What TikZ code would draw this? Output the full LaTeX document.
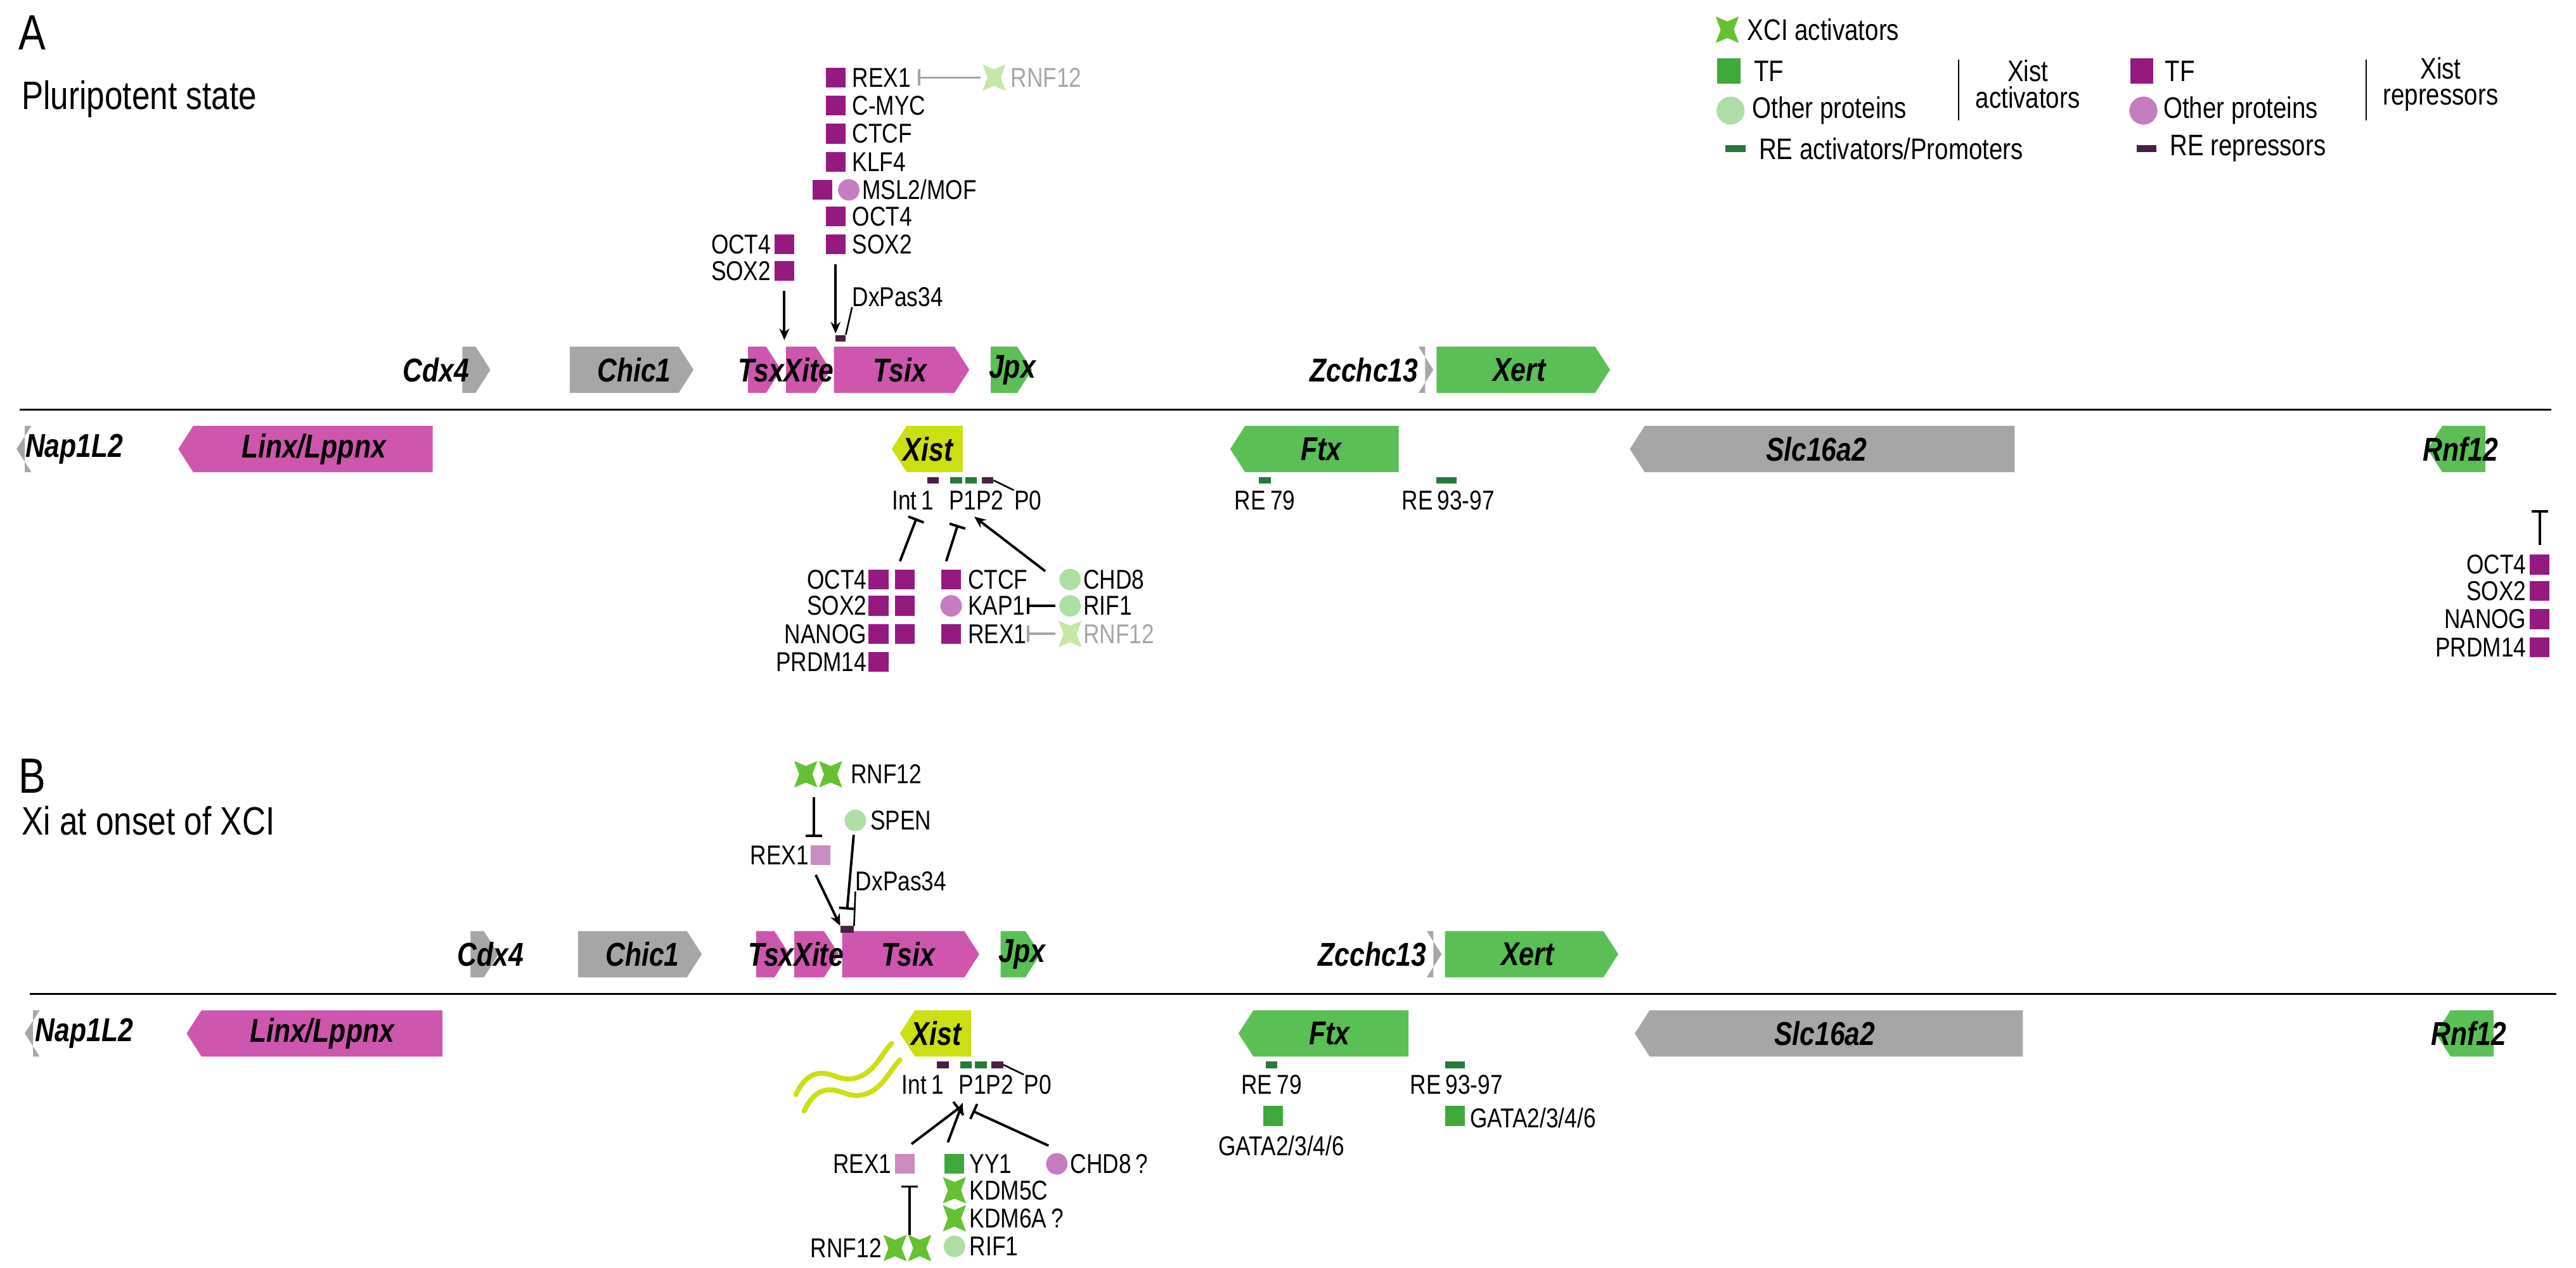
\documentclass[tikz,border=0pt]{standalone}
\usepackage{fontspec}
\setmainfont{Liberation Sans}[FakeStretch=0.82]
\usetikzlibrary{arrows.meta}
\definecolor{gpink}{HTML}{CE56AE}
\definecolor{ggreen}{HTML}{5ABF55}
\definecolor{ggrey}{HTML}{A6A6A6}
\definecolor{gxist}{HTML}{CCDF11}
\definecolor{tfp}{HTML}{96197F}
\definecolor{opp}{HTML}{C77BC0}
\definecolor{opg}{HTML}{ADDFA5}
\definecolor{stg}{HTML}{63C132}
\definecolor{stl}{HTML}{C5E8A6}
\definecolor{reg}{HTML}{267A3A}
\definecolor{rep}{HTML}{4A1F45}
\definecolor{lpk}{HTML}{C98BC1}
\definecolor{tfg}{HTML}{3FA83A}
\newcommand\gR[4]{\fill[#4] (#1,#3-14) -- (#2-9,#3-14) -- (#2,#3) -- (#2-9,#3+14) -- (#1,#3+14) -- cycle;}
\newcommand\gL[4]{\fill[#4] (#1+9,#3-14) -- (#2,#3-14) -- (#2,#3+14) -- (#1+9,#3+14) -- (#1,#3) -- cycle;}
\tikzset{
 x=1pt,y=-1pt,
 lb/.style={font=\fontsize{16.5}{17}\selectfont,inner sep=0pt},
 gn/.style={font=\fontsize{20}{20}\selectfont\bfseries\itshape,inner sep=0pt},
 lg/.style={font=\fontsize{18}{18}\selectfont,inner sep=0pt},
 tf/.style={fill=tfp,minimum size=12pt,inner sep=0pt},
 tfg/.style={fill=tfg,minimum size=12pt,inner sep=0pt},
 tfl/.style={fill=lpk,minimum size=12pt,inner sep=0pt},
 cp/.style={circle,fill=opp,minimum width=12pt,minimum height=13pt,inner sep=0pt},
 cg/.style={circle,fill=opg,minimum width=12pt,minimum height=13pt,inner sep=0pt},
 rer/.style={fill=rep,minimum width=7pt,minimum height=4pt,inner sep=0pt},
 reg/.style={fill=reg,minimum width=7pt,minimum height=4pt,inner sep=0pt},
 con/.style={line width=1.5pt,draw=black},
 act/.style={con,-{Stealth[length=7pt,width=6pt]}},
 inh/.style={con,-{Bar[width=10pt]}},
 xstar/.pic={\fill[pic actions] (-7,-8) -- (0,-5) -- (7,-8) -- (4,0) -- (7,8) -- (0,5) -- (-7,8) -- (-4,0) -- cycle;},
}
\begin{document}
\begin{tikzpicture}
\useasboundingbox (0,0) rectangle (1560,768);
% ---------- Panel A ----------
\node[anchor=west,inner sep=0,font=\fontsize{30}{30}\selectfont] (A) at (11,20) {A};
\node[anchor=west,inner sep=0,font=\fontsize{24}{24}\selectfont] (As) at (13,60) {Pluripotent state};
\draw[line width=1.2pt] (12,248) -- (1545,248);
% upper genes
\gR{280}{297}{224}{ggrey}
\gR{345}{420}{224}{ggrey}
\gR{453}{473}{224}{gpink}
\gR{476}{503}{224}{gpink}
\gR{505}{587}{224}{gpink}
\gR{600}{625}{224}{ggreen}
\gR{863}{868}{224}{ggrey}
\gR{870}{975}{224}{ggreen}
\node[gn] (cdx4) at (264,224) {Cdx4};
\node[gn] (chic1) at (384,224) {Chic1};
\node[gn] (tsx) at (476,224) {TsxXite};
\node[gn] (tsix) at (545,224) {Tsix};
\node[gn] (jpx) at (613,224) {Jpx};
\node[gn] (zc) at (826,224) {Zcchc13};
\node[gn] (xert) at (920,224) {Xert};
% lower genes
\gL{10}{15}{272}{ggrey}
\gL{108}{262}{272}{gpink}
\gL{540}{583}{272}{gxist}
\gL{745}{847}{272}{ggreen}
\gL{987}{1220}{272}{ggrey}
\gL{1470}{1505}{272}{ggreen}
\node[gn] (nap) at (45,272) {Nap1L2};
\node[gn] (linx) at (190,272) {Linx/Lppnx};
\node[gn] (xist) at (562,272) {Xist};
\node[gn] (ftx) at (800,272) {Ftx};
\node[gn] (slc) at (1100,272) {Slc16a2};
\node[gn] (rnf) at (1490,272) {Rnf12};
% RE marks
\node[rer] (int1) at (565,291) {};
\node[reg] (p1) at (579,291) {};
\node[reg] (p2) at (588,291) {};
\node[rer] (p0m) at (598,291) {};
\node[lb] (ilab) at (574,303) {Int\,1\;\;P1P2};
\node[lb,anchor=west] (p0) at (614,303) {P0};
\draw[line width=1pt] (p0m.east) -- (p0.north west);
\node[reg] (re79) at (766,291) {};
\node[lb] (re79l) at (766,303) {RE\,79};
\node[reg,minimum width=12pt] (re93) at (876,291) {};
\node[lb] (re93l) at (877,303) {RE\,93-97};
% lower-left cluster
\node[tf] (o1) at (532,351) {}; \node[tf] (o2) at (548,351) {};
\node[tf] (s1) at (532,367) {}; \node[tf] (s2) at (548,367) {};
\node[tf] (n1) at (532,384) {}; \node[tf] (n2) at (548,384) {};
\node[tf] (pr) at (532,401) {};
\node[lb,anchor=east] at (525,351) {OCT4};
\node[lb,anchor=east] at (525,367) {SOX2};
\node[lb,anchor=east] at (525,384) {NANOG};
\node[lb,anchor=east] at (525,401) {PRDM14};
\node[tf] (ctcf) at (576,351) {}; \node[lb,anchor=west] at (586,351) {CTCF};
\node[cp] (kap) at (576,367) {}; \node[lb,anchor=west] (kapl) at (586,367) {KAP1};
\node[tf] (rex) at (576,384) {}; \node[lb,anchor=west] (rexl) at (586,384) {REX1};
\node[cg] (chd) at (648,351) {}; \node[lb,anchor=west] at (656,351) {CHD8};
\node[cg] (rif) at (648,367) {}; \node[lb,anchor=west] at (656,367) {RIF1};
\pic[fill=stl] (rstar) at (648,384) {xstar};
\node[lb,anchor=west,text=ggrey] at (656,384) {RNF12};
\draw[inh] (639,367) -- (622,367);
\draw[inh,draw=ggrey] (639,384) -- (622,384);
\coordinate (t1) at (555,314); \coordinate (t2) at (580,318); \coordinate (t3) at (590,313);
\draw[inh] (545,340) -- (t1);
\draw[inh] (573,340) -- (t2);
\draw[act] (633,346) -- (t3);
% upper cluster
\foreach \n/\yy/\t in {a/47/REX1,b/64/C-MYC,c/81/CTCF,d/98/KLF4,f/131/OCT4,g/148/SOX2}
  {\node[tf] (u\n) at (506,\yy) {}; \node[lb,anchor=west] (ul\n) at (516,\yy) {\t};}
\node[tf] (ue) at (498,115) {}; \node[cp] (uec) at (514,115) {};
\node[lb,anchor=west] at (522,115) {MSL2/MOF};
\pic[fill=stl] at (602,47) {xstar};
\node[lb,anchor=west,text=ggrey] (urnf) at (612,47) {RNF12};
\draw[inh,draw=ggrey,line width=1.3pt] (594,47) -- (556,47);
\node[tf] (lo) at (475,148) {}; \node[tf] (ls) at (475,164) {};
\node[lb,anchor=east] at (467,148) {OCT4};
\node[lb,anchor=east] at (467,164) {SOX2};
\node[rer,minimum width=6pt] (dx) at (509,205) {};
\coordinate (tsxc) at (475,206);
\draw[act] (ls.south) ++(0,6) -- (tsxc);
\draw[act] (ug.south) ++(0,6) -- (506,202);
\node[lb,anchor=west] (dxl) at (516,180) {DxPas34};
\draw[line width=1pt] (dx.north east) -- (dxl.south west);
% Rnf12 cluster
\foreach \yy/\t in {342/OCT4,358/SOX2,375/NANOG,392/PRDM14}
  {\node[tf] at (1538,\yy) {}; \node[lb,anchor=east] at (1530,\yy) {\t};}
\coordinate (rt) at (1538,309);
\draw[inh] (1538,330) -- (rt);
% ---------- Legend ----------
\pic[fill=stg] at (1046,18) {xstar};
\node[lg,anchor=west] at (1058,18) {XCI activators};
\node[fill=tfg,minimum width=14pt,minimum height=15pt,inner sep=0] at (1047,43) {};
\node[lg,anchor=west] at (1062,43) {TF};
\node[circle,fill=opg,minimum width=15pt,minimum height=17pt,inner sep=0] at (1048,67) {};
\node[lg,anchor=west] at (1061,67) {Other proteins};
\draw[line width=0.9pt] (1186,36) -- (1186,73);
\node[lg,align=center,font=\fontsize{18}{16}\selectfont] at (1228,51) {Xist\\activators};
\node[fill=tfp,minimum width=14pt,minimum height=15pt,inner sep=0] at (1297,43) {};
\node[lg,anchor=west] at (1311,43) {TF};
\node[circle,fill=opp,minimum width=15pt,minimum height=17pt,inner sep=0] at (1298,67) {};
\node[lg,anchor=west] at (1310,67) {Other proteins};
\draw[line width=0.9pt] (1433,36) -- (1433,73);
\node[lg,align=center,font=\fontsize{18}{16}\selectfont] at (1478,51) {Xist\\repressors};
\node[fill=reg,minimum width=12pt,minimum height=4pt,inner sep=0] at (1051,90) {};
\node[lg,anchor=west] at (1065,90) {RE activators/Promoters};
\node[fill=rep,minimum width=12pt,minimum height=4pt,inner sep=0] at (1300,90) {};
\node[lg,anchor=west] at (1314,90) {RE repressors};
% ---------- Panel B ----------
\node[anchor=west,inner sep=0,font=\fontsize{30}{30}\selectfont] (B) at (11,470) {B};
\node[anchor=west,inner sep=0,font=\fontsize{24}{24}\selectfont] (Bs) at (13,497) {Xi at onset of XCI};
\draw[line width=1.2pt] (18,602) -- (1548,602);
\gR{285}{302}{578}{ggrey}
\gR{350}{425}{578}{ggrey}
\gR{458}{478}{578}{gpink}
\gR{481}{508}{578}{gpink}
\gR{510}{593}{578}{gpink}
\gR{606}{630}{578}{ggreen}
\gR{868}{873}{578}{ggrey}
\gR{875}{980}{578}{ggreen}
\node[gn] at (297,578) {Cdx4};
\node[gn] at (389,578) {Chic1};
\node[gn] at (482,578) {TsxXite};
\node[gn] at (550,578) {Tsix};
\node[gn] at (619,578) {Jpx};
\node[gn] at (831,578) {Zcchc13};
\node[gn] at (925,578) {Xert};
\gL{15}{20}{626}{ggrey}
\gL{113}{268}{626}{gpink}
\gL{545}{588}{626}{gxist}
\gL{750}{853}{626}{ggreen}
\gL{990}{1225}{626}{ggrey}
\gL{1475}{1510}{626}{ggreen}
\node[gn] at (51,626) {Nap1L2};
\node[gn] at (195,626) {Linx/Lppnx};
\node[gn] (xistB) at (567,626) {Xist};
\node[gn] at (805,626) {Ftx};
\node[gn] at (1105,626) {Slc16a2};
\node[gn] at (1495,626) {Rnf12};
\draw[gxist,line width=3pt,line cap=round] (482,663) .. controls (488,650) and (496,648) .. (506,652) .. controls (516,656) and (524,652) .. (530,645) .. controls (534,640) and (537,635) .. (540,632);
\draw[gxist,line width=3pt,line cap=round] (487,673) .. controls (493,660) and (501,658) .. (511,662) .. controls (521,666) and (529,662) .. (535,655) .. controls (539,650) and (542,645) .. (545,642);
\node[rer] (int1B) at (571,645) {};
\node[reg] (p1B) at (585,645) {};
\node[reg] (p2B) at (594,645) {};
\node[rer] (p0mB) at (604,645) {};
\node[lb] at (580,657) {Int\,1\;\;P1P2};
\node[lb,anchor=west] (p0B) at (620,657) {P0};
\draw[line width=1pt] (p0mB.east) -- (p0B.north west);
\node[reg] (re79B) at (770,645) {};
\node[lb] at (770,657) {RE\,79};
\node[reg,minimum width=12pt] (re93B) at (881,645) {};
\node[lb] at (882,657) {RE\,93-97};
\node[tfg] (g1) at (771,676) {};
\node[lb] at (776,694) {GATA2/3/4/6};
\node[tfg] (g2) at (881,676) {};
\node[lb,anchor=west] at (890,677) {GATA2/3/4/6};
% bottom cluster B
\node[tfl] (rexB) at (548,705) {}; \node[lb,anchor=east] at (540,705) {REX1};
\pic[fill=stg] at (542,756) {xstar}; \pic[fill=stg] at (557,756) {xstar};
\node[lb,anchor=east] at (534,756) {RNF12};
\coordinate (rbt) at (551,718);
\draw[inh] (551,748) -- (rbt);
\node[tfg] (yy1) at (578,705) {}; \node[lb,anchor=west] at (587,705) {YY1};
\pic[fill=stg] at (578,721) {xstar}; \node[lb,anchor=west] at (587,721) {KDM5C};
\pic[fill=stg] at (578,738) {xstar}; \node[lb,anchor=west] at (587,738) {KDM6A\,?};
\node[cg] (rifB) at (578,755) {}; \node[lb,anchor=west] at (587,755) {RIF1};
\node[cp] (chdB) at (640,705) {}; \node[lb,anchor=west] at (648,705) {CHD8\,?};
\coordinate (bt1) at (581,671); \coordinate (bt2) at (583,668); \coordinate (bt3) at (589,673);
\draw[inh] (552,693) -- (bt1);
\draw[act] (574,692) -- (bt2);
\draw[inh] (635,694) -- (bt3);
% top cluster B
\pic[fill=stg] at (488,469) {xstar}; \pic[fill=stg] at (503,469) {xstar};
\node[lb,anchor=west] at (515,469) {RNF12};
\node[cg] (spen) at (518,497) {}; \node[lb,anchor=west] at (527,497) {SPEN};
\node[tfl] (rexT) at (497,518) {}; \node[lb,anchor=east] at (490,518) {REX1};
\coordinate (rtt) at (493,507);
\draw[inh] (493,483) -- (rtt);
\node[rer,minimum width=8pt] (dxB) at (513,563) {};
\draw[act] (494,530) -- (dxB.north west);
\coordinate (spt) at (513,551);
\draw[inh] (spen.south) ++(-1,2) -- (spt);
\node[lb,anchor=west] (dxlB) at (518,534) {DxPas34};
\draw[line width=1pt] (dxB.north east) -- (dxlB.south west);
\end{tikzpicture}
\end{document}
